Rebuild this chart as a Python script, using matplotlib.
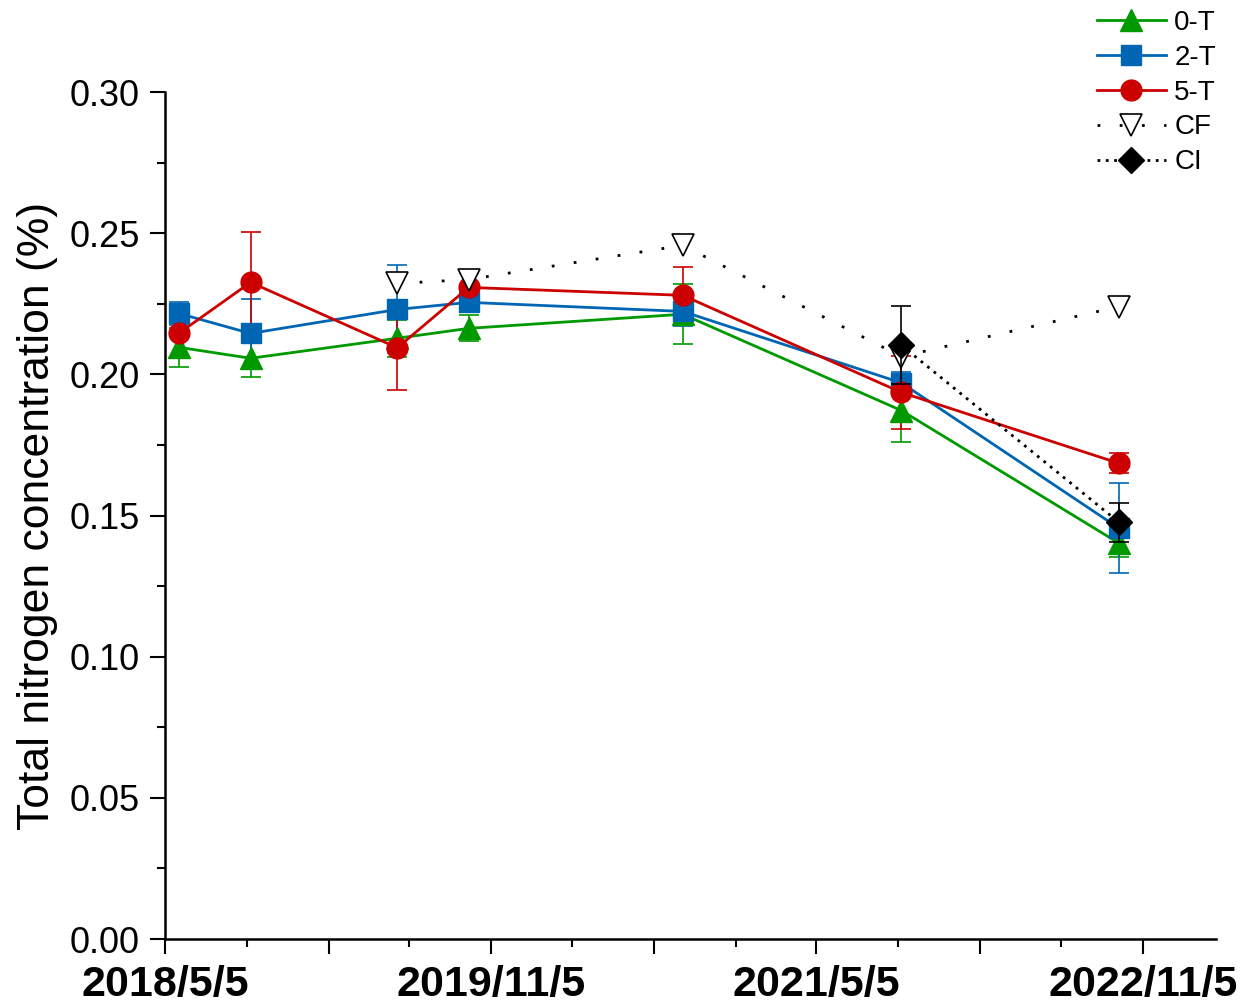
import numpy as np
import pandas as pd
import matplotlib
matplotlib.use("Agg")
import matplotlib.pyplot as plt

plt.rcParams['font.family'] = ['Liberation Sans', 'DejaVu Sans']

# sampling dates
dates = pd.to_datetime(['2018-05-28', '2018-09-26', '2019-05-31', '2019-09-28',
                        '2020-09-22', '2021-09-25', '2022-09-26'])

t0 = [0.2096, 0.2057, 0.2128, 0.2163, 0.2213, 0.1872, 0.1402]
t0_err = [0.0070, 0.0067, 0.0065, 0.0046, 0.0106, 0.0110, 0.0050]

t2 = [0.2216, 0.2145, 0.2230, 0.2255, 0.2223, 0.1970, 0.1455]
t2_err = [0.0040, 0.0123, 0.0156, 0.0035, 0.0050, 0.0040, 0.0159]

t5 = [0.2145, 0.2326, 0.2094, 0.2308, 0.2280, 0.1936, 0.1685]
t5_err = [0.0085, 0.0180, 0.0150, 0.0050, 0.0100, 0.0130, 0.0035]

cf_dates = dates[2:]
cf = [0.2322, 0.2336, 0.2457, 0.2063, 0.2240]

ci_dates = dates[5:]
ci = [0.2103, 0.1476]
ci_err = [0.0138, 0.0070]

# x axis ticks: long ticks every 9 months, every other one labelled
xtick_dates = pd.to_datetime(['2018-05-05', '2019-02-05', '2019-11-05', '2020-08-05',
                              '2021-05-05', '2022-02-05', '2022-11-05'])
xtick_labels = ['2018/5/5', '', '2019/11/5', '', '2021/5/5', '', '2022/11/5']
xminor_dates = pd.to_datetime(['2018-09-20', '2019-06-20', '2020-03-20',
                               '2020-12-20', '2021-09-20', '2022-06-20'])
x_start = pd.Timestamp('2018-05-05')
x_end = pd.Timestamp('2023-03-08')

GREEN = '#009900'
BLUE = '#0066B3'
RED = '#CC0000'

fig = plt.figure(figsize=(12.47, 10.07), dpi=100)
ax = fig.add_axes([0.1323, 0.0675, 0.975 - 0.1323, 0.9086 - 0.0675])

series = [
    (t0, t0_err, GREEN, '^', '0-T', 16),
    (t2, t2_err, BLUE, 's', '2-T', 14),
    (t5, t5_err, RED, 'o', '5-T', 15),
]
handles = []
for y, err, col, mk, lab, ms in series:
    ax.errorbar(dates, y, yerr=err, fmt='none', ecolor=col, elinewidth=1.2,
                capsize=7, capthick=1.2, zorder=2)
    h, = ax.plot(dates, y, color=col, lw=2.0, marker=mk, ms=ms,
                 mec=col, mfc=col, label=lab, zorder=3)
    handles.append(h)

h_cf, = ax.plot(cf_dates, cf, color='black', lw=2.0, ls=(0, (1, 7)),
                marker='v', ms=16, mfc='white', mec='black', mew=1.2,
                label='CF', zorder=4)
ax.errorbar(ci_dates, ci, yerr=ci_err, fmt='none', ecolor='black',
            elinewidth=1.2, capsize=7, capthick=1.2, zorder=4)
h_ci, = ax.plot(ci_dates, ci, color='black', lw=2.0, ls=(0, (1, 2)),
                marker='D', ms=13, mfc='black', mec='black',
                label='CI', zorder=5)
handles += [h_cf, h_ci]

ax.set_xlim(x_start, x_end)
ax.set_ylim(0, 0.30)
ax.set_xticks(xtick_dates)
ax.set_xticklabels(xtick_labels, fontsize=31, fontweight='bold')
ax.set_xticks(xminor_dates, minor=True)
ax.set_yticks(np.arange(0, 0.301, 0.05))
ax.set_yticklabels([f'{v:.2f}' for v in np.arange(0, 0.301, 0.05)], fontsize=26)
ax.set_yticks(np.arange(0.025, 0.3, 0.05), minor=True)

for s in ['top', 'right']:
    ax.spines[s].set_visible(False)
for s in ['left', 'bottom']:
    ax.spines[s].set_linewidth(1.8)

ax.tick_params(axis='both', which='major', direction='out', length=11, width=1.5)
ax.tick_params(axis='both', which='minor', direction='out', length=6, width=1.5)
ax.tick_params(axis='x', which='major', pad=8)
ax.tick_params(axis='y', which='major', pad=7)

ax.set_ylabel('Total nitrogen concentration (%)', fontsize=32, labelpad=8)

fig.legend(handles=handles, loc='upper right', bbox_to_anchor=(0.983, 1.0),
           frameon=False, fontsize=20, handlelength=2.5, handletextpad=0.3,
           labelspacing=0.32, borderaxespad=0.2, borderpad=0.15)

fig.savefig('out.png', dpi=100)
